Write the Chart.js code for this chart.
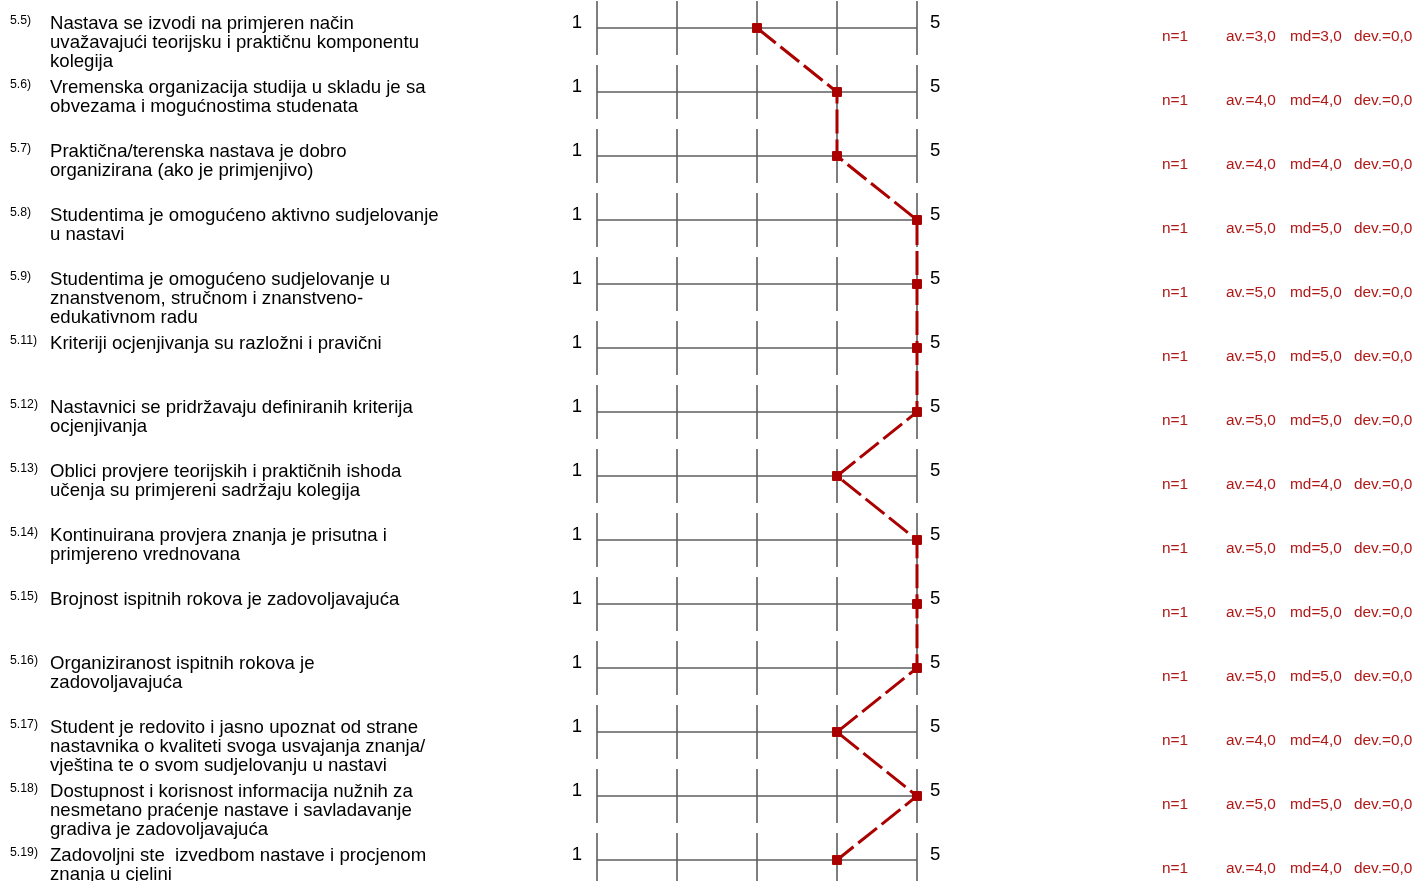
<!DOCTYPE html>
<html>
<head>
<meta charset="utf-8">
<script src="https://cdn.jsdelivr.net/npm/chart.js@4/dist/chart.umd.min.js"></script>
<style>
  html, body { margin: 0; padding: 0; background: #ffffff; }
  #wrap { width: 1417px; height: 881px; position: relative; }
</style>
</head>
<body>
<div id="wrap"><canvas id="c" width="1417" height="881"></canvas></div>
<script>
const codes = ["5.5)", "5.6)", "5.7)", "5.8)", "5.9)", "5.11)", "5.12)", "5.13)", "5.14)", "5.15)", "5.16)", "5.17)", "5.18)", "5.19)"];
const questions = [
  ["Nastava se izvodi na primjeren način", "uvažavajući teorijsku i praktičnu komponentu", "kolegija"],
  ["Vremenska organizacija studija u skladu je sa", "obvezama i mogućnostima studenata"],
  ["Praktična/terenska nastava je dobro", "organizirana (ako je primjenjivo)"],
  ["Studentima je omogućeno aktivno sudjelovanje", "u nastavi"],
  ["Studentima je omogućeno sudjelovanje u", "znanstvenom, stručnom i znanstveno-", "edukativnom radu"],
  ["Kriteriji ocjenjivanja su razložni i pravični"],
  ["Nastavnici se pridržavaju definiranih kriterija", "ocjenjivanja"],
  ["Oblici provjere teorijskih i praktičnih ishoda", "učenja su primjereni sadržaju kolegija"],
  ["Kontinuirana provjera znanja je prisutna i", "primjereno vrednovana"],
  ["Brojnost ispitnih rokova je zadovoljavajuća"],
  ["Organiziranost ispitnih rokova je", "zadovoljavajuća"],
  ["Student je redovito i jasno upoznat od strane", "nastavnika o kvaliteti svoga usvajanja znanja/", "vještina te o svom sudjelovanju u nastavi"],
  ["Dostupnost i korisnost informacija nužnih za", "nesmetano praćenje nastave i savladavanje", "gradiva je zadovoljavajuća"],
  ["Zadovoljni ste  izvedbom nastave i procjenom", "znanja u cjelini"]
];
const values = [3, 4, 4, 5, 5, 5, 5, 4, 5, 5, 5, 4, 5, 4];
const nCounts = [1, 1, 1, 1, 1, 1, 1, 1, 1, 1, 1, 1, 1, 1];
const averages = ["3,0", "4,0", "4,0", "5,0", "5,0", "5,0", "5,0", "4,0", "5,0", "5,0", "5,0", "4,0", "5,0", "4,0"];
const medians = ["3,0", "4,0", "4,0", "5,0", "5,0", "5,0", "5,0", "4,0", "5,0", "5,0", "5,0", "4,0", "5,0", "4,0"];
const deviations = ["0,0", "0,0", "0,0", "0,0", "0,0", "0,0", "0,0", "0,0", "0,0", "0,0", "0,0", "0,0", "0,0", "0,0"];
const scaleTicks = [1, 2, 3, 4, 5];
const scaleEndLabels = ["1", "5"];

const points = values.map((v, i) => ({ x: v, y: i }));

const FONT = '"Liberation Sans", Arial, sans-serif';

const gridPlugin = {
  id: 'profileGrid',
  beforeDatasetsDraw(chart) {
    const ctx = chart.ctx;
    const xs = chart.scales.x, ys = chart.scales.y;
    ctx.save();
    ctx.strokeStyle = '#5e5e5e';
    ctx.lineWidth = 1.6;
    values.forEach((v, i) => {
      const y = ys.getPixelForValue(i);
      ctx.beginPath();
      ctx.moveTo(xs.getPixelForValue(scaleTicks[0]), y);
      ctx.lineTo(xs.getPixelForValue(scaleTicks[scaleTicks.length - 1]), y);
      ctx.stroke();
      const yTop = ys.getPixelForValue(i - 0.42);
      const yBot = ys.getPixelForValue(i + 0.42);
      scaleTicks.forEach(t => {
        const x = xs.getPixelForValue(t);
        ctx.beginPath();
        ctx.moveTo(x, yTop);
        ctx.lineTo(x, yBot);
        ctx.stroke();
      });
    });
    ctx.restore();
  },
  afterDraw(chart) {
    const ctx = chart.ctx;
    const xs = chart.scales.x, ys = chart.scales.y;
    ctx.save();
    ctx.textBaseline = 'alphabetic';
    values.forEach((v, i) => {
      const y = ys.getPixelForValue(i);
      ctx.fillStyle = '#000000';
      ctx.font = '12.3px ' + FONT;
      ctx.textAlign = 'left';
      ctx.fillText(codes[i], 10, y - 4.5);
      ctx.font = '18.6px ' + FONT;
      questions[i].forEach((line, k) => {
        ctx.fillText(line, 50, y + 0.5 + k * 19);
      });
      ctx.textAlign = 'right';
      ctx.fillText(scaleEndLabels[0], xs.getPixelForValue(scaleTicks[0]) - 15, y - 0.5);
      ctx.textAlign = 'left';
      ctx.fillText(scaleEndLabels[1], xs.getPixelForValue(scaleTicks[scaleTicks.length - 1]) + 13, y - 0.5);
      ctx.fillStyle = '#b01818';
      ctx.font = '15.4px ' + FONT;
      const sy = y + 12.5;
      ctx.fillText('n=' + nCounts[i], 1162, sy);
      ctx.fillText('av.=' + averages[i], 1226, sy);
      ctx.fillText('md=' + medians[i], 1290, sy);
      ctx.fillText('dev.=' + deviations[i], 1354, sy);
    });
    ctx.restore();
  }
};

new Chart(document.getElementById('c'), {
  type: 'scatter',
  data: {
    datasets: [{
      data: points,
      showLine: true,
      borderColor: '#aa0000',
      backgroundColor: '#aa0000',
      borderWidth: 3,
      borderDash: [24, 6],
      pointStyle: 'rect',
      pointRadius: 6.3,
      pointBorderWidth: 1,
      pointBorderColor: '#aa0000',
      pointBackgroundColor: '#aa0000',
      clip: false,
      tension: 0
    }]
  },
  options: {
    responsive: false,
    animation: false,
    events: [],
    layout: { autoPadding: false, padding: { left: 597, right: 500, top: 0, bottom: 0 } },
    plugins: { legend: { display: false }, tooltip: { enabled: false } },
    scales: {
      x: { type: 'linear', min: 1, max: 5, display: false },
      y: { type: 'linear', min: -0.4375, max: 13.328125, reverse: true, display: false }
    }
  },
  plugins: [gridPlugin]
});
</script>
</body>
</html>
